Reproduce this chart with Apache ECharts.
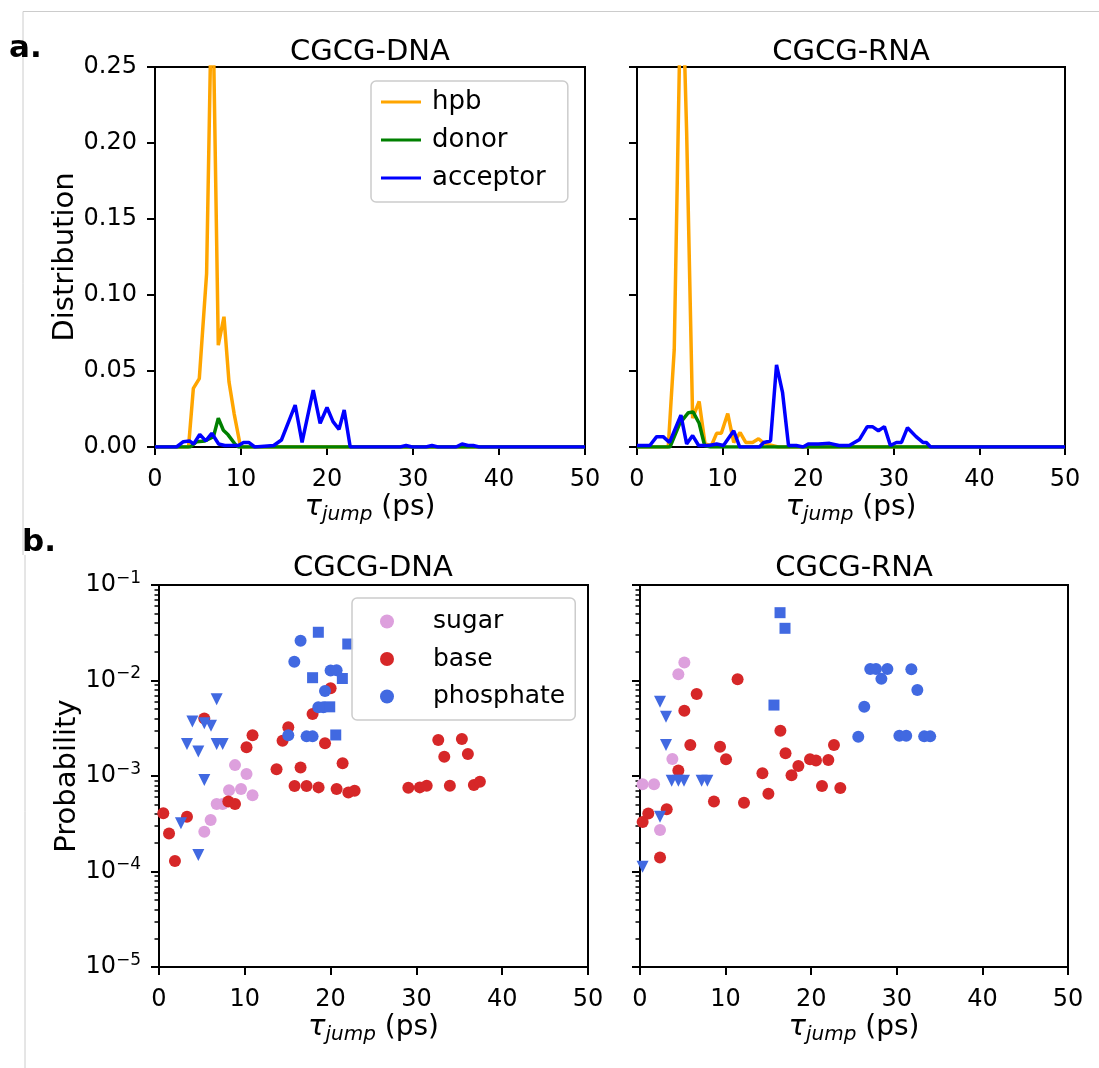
<!DOCTYPE html>
<html><head><meta charset="utf-8">
<script src="https://cdn.jsdelivr.net/npm/echarts@6/dist/echarts.min.js"></script>
<style>html,body{margin:0;padding:0;background:#fff}#c{width:1099px;height:1068px}</style>
</head><body><div id="c"></div>
<script>
// ---------- Panel a: distributions ----------
const dnaHpbX = [0, 3.9, 4.46, 5.15, 6.0, 6.65, 7.36, 8.02, 8.6, 9.2, 9.95, 50];
const dnaHpbY = [0, 0, 0.0386, 0.045, 0.114, 0.32, 0.067, 0.0857, 0.043, 0.022, 0.0, 0];
const dnaDonX = [0, 4.1, 4.85, 5.8, 6.8, 7.36, 7.95, 8.5, 9.3, 9.7, 50];
const dnaDonY = [0, 0, 0.0035, 0.004, 0.0068, 0.019, 0.011, 0.008, 0.002, 0, 0];
const dnaAccX = [0, 2.5, 3.3, 4.0, 4.5, 5.2, 5.9, 6.6, 7.4, 8.1, 8.9, 9.7, 10.3, 10.9, 11.6, 13.8, 14.7, 16.3, 17.1, 18.4, 19.2, 20.0, 20.7, 21.4, 22.0, 22.7, 28.5, 29.2, 29.9, 31.5, 32.2, 32.9, 35.0, 35.7, 36.4, 37.0, 37.7, 50];
const dnaAccY = [0, 0, 0.0035, 0.004, 0.002, 0.0083, 0.004, 0.009, 0.002, 0.001, 0.001, 0.001, 0.003, 0.003, 0, 0.001, 0.0046, 0.0276, 0.003, 0.0375, 0.0156, 0.026, 0.0167, 0.0116, 0.0243, 0, 0, 0.001, 0, 0, 0.001, 0, 0, 0.002, 0.001, 0.001, 0, 0];

const rnaHpbX = [0, 3.65, 4.35, 5.2, 5.8, 6.5, 7.26, 7.95, 8.7, 9.3, 9.85, 10.6, 11.3, 12.05, 12.7, 13.5, 14.2, 14.7, 15.4, 16.5, 50];
const rnaHpbY = [0, 0, 0.064, 0.33, 0.207, 0.019, 0.030, 0.002, 0.001, 0.009, 0.009, 0.022, 0.003, 0.0095, 0.003, 0.003, 0.0054, 0.003, 0.0015, 0, 0];
const rnaDonX = [0, 3.85, 5.0, 6.0, 6.56, 7.26, 7.9, 8.6, 50];
const rnaDonY = [0, 0, 0.0156, 0.0226, 0.023, 0.0156, 0.001, 0, 0];
const rnaAccX = [0, 1.5, 2.3, 3.05, 3.8, 5.13, 5.8, 6.5, 7.2, 8.4, 9.3, 10.1, 11.3, 12.0, 14.3, 14.8, 15.6, 16.3, 17.0, 17.7, 18.6, 19.4, 20.0, 21.2, 22.5, 23.6, 24.8, 26.0, 26.9, 27.5, 28.2, 28.9, 29.6, 30.3, 30.9, 31.6, 32.6, 33.4, 33.8, 34.3, 50];
const rnaAccY = [0.001, 0.001, 0.0068, 0.0068, 0.003, 0.021, 0.002, 0.0075, 0.001, 0.001, 0.002, 0.001, 0.0107, 0, 0, 0.003, 0.004, 0.054, 0.036, 0.001, 0.001, 0, 0.002, 0.002, 0.0024, 0.001, 0.001, 0.005, 0.0134, 0.0134, 0.0107, 0.0134, 0.001, 0.003, 0.003, 0.0127, 0.0068, 0.003, 0.003, 0, 0];

// ---------- Panel b: probabilities ----------
const dnaSugarX = [8.86, 10.2, 8.16, 9.56, 10.9, 6.72, 7.42, 6.02, 5.28];
const dnaSugarY = [1.30e-3, 1.05e-3, 7.1e-4, 7.3e-4, 6.3e-4, 5.1e-4, 5.1e-4, 3.46e-4, 2.61e-4];
const dnaBaseX = [0.5, 1.17, 1.86, 3.26, 5.28, 8.08, 8.86, 10.2, 10.9, 13.7, 14.4, 15.07, 15.8, 16.5, 17.2, 17.9, 18.6, 19.35, 20.0, 20.7, 21.4, 22.07, 22.8, 29.06, 30.4, 31.2, 32.55, 33.25, 33.9, 35.3, 36.0, 36.7, 37.4];
const dnaBaseY = [4.07e-4, 2.5e-4, 1.29e-4, 3.75e-4, 4.0e-3, 5.4e-4, 5.1e-4, 2.0e-3, 2.67e-3, 1.18e-3, 2.34e-3, 3.24e-3, 7.85e-4, 1.23e-3, 7.85e-4, 4.46e-3, 7.6e-4, 2.2e-3, 8.3e-3, 7.3e-4, 1.36e-3, 6.7e-4, 7.0e-4, 7.55e-4, 7.6e-4, 7.9e-4, 2.38e-3, 1.59e-3, 7.9e-4, 2.44e-3, 1.70e-3, 8.05e-4, 8.7e-4];
const dnaPhosCircX = [16.5, 15.77, 20.0, 20.7, 19.35, 18.57, 19.15, 15.07, 17.2, 17.9];
const dnaPhosCircY = [2.61e-2, 1.57e-2, 1.27e-2, 1.28e-2, 7.76e-3, 5.24e-3, 5.24e-3, 2.67e-3, 2.6e-3, 2.6e-3];
const dnaPhosSqX = [18.57, 22.0, 17.9, 21.37, 19.9, 20.6];
const dnaPhosSqY = [3.2e-2, 2.41e-2, 1.07e-2, 1.05e-2, 5.3e-3, 2.69e-3];
const dnaPhosTriX = [6.72, 3.89, 5.28, 6.06, 3.26, 4.58, 6.72, 7.42, 5.28, 2.56, 4.58];
const dnaPhosTriY = [6.35e-3, 3.71e-3, 3.57e-3, 3.36e-3, 2.16e-3, 1.8e-3, 2.16e-3, 2.16e-3, 9.1e-4, 3.2e-4, 1.49e-4];

const rnaSugarX = [5.18, 4.48, 3.78, 0.3, 1.64, 2.34];
const rnaSugarY = [1.54e-2, 1.16e-2, 1.51e-3, 8.2e-4, 8.2e-4, 2.72e-4];
const rnaBaseX = [11.4, 6.62, 5.18, 5.88, 9.35, 10.05, 4.48, 3.12, 0.97, 0.31, 2.34, 8.64, 12.15, 14.3, 15.0, 16.4, 17.0, 17.7, 18.5, 19.86, 20.56, 21.26, 22.0, 22.66, 23.4];
const rnaBaseY = [1.03e-2, 7.23e-3, 4.83e-3, 2.11e-3, 2.03e-3, 1.5e-3, 1.14e-3, 4.48e-4, 4.06e-4, 3.3e-4, 1.4e-4, 5.4e-4, 5.25e-4, 1.07e-3, 6.5e-4, 2.98e-3, 1.73e-3, 1.02e-3, 1.27e-3, 1.5e-3, 1.45e-3, 7.85e-4, 1.47e-3, 2.11e-3, 7.5e-4];
const rnaPhosCircX = [26.9, 27.57, 28.9, 28.2, 31.7, 32.4, 26.2, 25.5, 30.3, 31.1, 33.2, 33.9];
const rnaPhosCircY = [1.32e-2, 1.32e-2, 1.32e-2, 1.04e-2, 1.31e-2, 7.96e-3, 5.3e-3, 2.58e-3, 2.64e-3, 2.64e-3, 2.6e-3, 2.6e-3];
const rnaPhosSqX = [16.36, 16.94, 15.65];
const rnaPhosSqY = [5.13e-2, 3.52e-2, 5.53e-3];
const rnaPhosTriX = [2.34, 3.04, 3.04, 3.7, 4.48, 5.14, 7.2, 7.87, 2.34, 0.3];
const rnaPhosTriY = [6.0e-3, 4.18e-3, 2.11e-3, 8.9e-4, 8.9e-4, 8.9e-4, 8.9e-4, 8.9e-4, 3.75e-4, 1.12e-4];

const panelTitles = ['CGCG-DNA', 'CGCG-RNA'];
const distTicks = [0, 0.05, 0.1, 0.15, 0.2, 0.25];
const xTicks = [0, 10, 20, 30, 40, 50];

// ---------- build ----------
const FONT = 'DejaVu Sans';
const zip = (xs, ys) => xs.map((x, i) => [x, ys[i]]);
const minorVals = [];
for (let e = -5; e < -1; e++) for (let m = 2; m <= 9; m++) minorVals.push(m * Math.pow(10, e));

const grids = [
  {left: 155, top: 67, width: 430, height: 380},
  {left: 637, top: 67, width: 428, height: 380},
  {left: 159, top: 585, width: 429, height: 382},
  {left: 640, top: 585, width: 428, height: 382}
].map(g => Object.assign({show: true, borderColor: '#000', borderWidth: 2, backgroundColor: 'transparent', outerBoundsMode: 'none'}, g));

const xName = '{t|τ}{s|jump} {n|(ps)}';
const xNameStyle = {
  color: '#000', fontFamily: FONT, fontSize: 28,
  rich: {
    t: {fontFamily: FONT, fontStyle: 'italic', fontSize: 29, lineHeight: 34, color: '#000'},
    s: {fontFamily: FONT, fontStyle: 'italic', fontSize: 20, lineHeight: 22, verticalAlign: 'bottom', color: '#000'},
    n: {fontFamily: FONT, fontSize: 28, lineHeight: 34, color: '#000'}
  }
};
function xAxisCfg(gi) {
  return {
    type: 'value', gridIndex: gi, min: 0, max: 50, interval: 10,
    name: xName, nameLocation: 'middle', nameGap: 43, nameTextStyle: xNameStyle,
    axisLine: {show: true, onZero: false, lineStyle: {color: '#000', width: 2}},
    axisTick: {show: true, length: 8, lineStyle: {color: '#000', width: 2}},
    axisLabel: {show: true, margin: 21, color: '#000', fontFamily: FONT, fontSize: 24},
    splitLine: {show: false}
  };
}
function distY(gi, labels) {
  return {
    type: 'value', gridIndex: gi, min: 0, max: 0.25, interval: 0.05, position: 'left',
    name: labels ? 'Distribution' : '', nameLocation: 'middle', nameGap: 75,
    nameTextStyle: {color: '#000', fontFamily: FONT, fontSize: 29},
    axisLine: {show: true, onZero: false, lineStyle: {color: '#000', width: 2}},
    axisTick: {show: true, length: 8, lineStyle: {color: '#000', width: 2}},
    axisLabel: {show: labels, margin: 18, color: '#000', fontFamily: FONT, fontSize: 24, formatter: v => v.toFixed(2)},
    splitLine: {show: false}
  };
}
function probY(gi, labels) {
  return {
    type: 'log', logBase: 10, gridIndex: gi, min: 1e-5, max: 1e-1, position: 'left',
    name: labels ? 'Probability' : '', nameLocation: 'middle', nameGap: 77,
    nameTextStyle: {color: '#000', fontFamily: FONT, fontSize: 29},
    axisLine: {show: true, onZero: false, lineStyle: {color: '#000', width: 2}},
    axisTick: {show: true, length: 8, lineStyle: {color: '#000', width: 2}},
    axisLabel: {show: labels, margin: 18, color: '#000', fontFamily: FONT, fontSize: 24,
      formatter: v => '{b|10}{e|−' + Math.abs(Math.round(Math.log10(v))) + '}',
      rich: {
        b: {fontFamily: FONT, fontSize: 24, lineHeight: 30, color: '#000'},
        e: {fontFamily: FONT, fontSize: 17, lineHeight: 17, verticalAlign: 'top', color: '#000'}
      }},
    splitLine: {show: false}
  };
}
function minorY(gi) {
  return {
    type: 'log', logBase: 10, gridIndex: gi, min: 1e-5, max: 1e-1, position: 'left', offset: 0,
    axisLine: {show: false},
    axisTick: {show: true, length: 4.5, customValues: minorVals, lineStyle: {color: '#000', width: 1.5}},
    axisLabel: {show: false},
    splitLine: {show: false}
  };
}

function lineS(name, xs, ys, color, gi) {
  return {type: 'line', name, data: zip(xs, ys), xAxisIndex: gi, yAxisIndex: gi,
    showSymbol: false, symbol: 'none', clip: true, z: 2,
    lineStyle: {color, width: 3.5}, itemStyle: {color}, emphasis: {disabled: true}};
}
function scat(name, xs, ys, color, gi, symbol, size, rot) {
  return {type: 'scatter', name, data: zip(xs, ys), xAxisIndex: gi, yAxisIndex: gi,
    symbol, symbolSize: size, symbolRotate: rot || 0, z: 2,
    itemStyle: {color, opacity: 1}, emphasis: {disabled: true}};
}
const C = {hpb: '#FFA500', donor: '#008000', acceptor: '#0000FF', sugar: '#DDA0DD', base: '#D62728', phos: '#4169E1'};

const series = [
  lineS('hpb', dnaHpbX, dnaHpbY, C.hpb, 0),
  lineS('donor', dnaDonX, dnaDonY, C.donor, 0),
  lineS('acceptor', dnaAccX, dnaAccY, C.acceptor, 0),
  lineS('hpb', rnaHpbX, rnaHpbY, C.hpb, 1),
  lineS('donor', rnaDonX, rnaDonY, C.donor, 1),
  lineS('acceptor', rnaAccX, rnaAccY, C.acceptor, 1),
  scat('sugar', dnaSugarX, dnaSugarY, C.sugar, 2, 'circle', 12),
  scat('base', dnaBaseX, dnaBaseY, C.base, 2, 'circle', 12),
  scat('phosphate', dnaPhosCircX, dnaPhosCircY, C.phos, 2, 'circle', 12),
  scat('phosphate-sq', dnaPhosSqX, dnaPhosSqY, C.phos, 2, 'rect', 11),
  scat('phosphate-tri', dnaPhosTriX, dnaPhosTriY, C.phos, 2, 'triangle', 12, 180),
  scat('sugar', rnaSugarX, rnaSugarY, C.sugar, 3, 'circle', 12),
  scat('base', rnaBaseX, rnaBaseY, C.base, 3, 'circle', 12),
  scat('phosphate', rnaPhosCircX, rnaPhosCircY, C.phos, 3, 'circle', 12),
  scat('phosphate-sq', rnaPhosSqX, rnaPhosSqY, C.phos, 3, 'rect', 11),
  scat('phosphate-tri', rnaPhosTriX, rnaPhosTriY, C.phos, 3, 'triangle', 12, 180)
];

function txt(text, x, y, size, weight, align) {
  return {type: 'text', x, y, z: 100, silent: true,
    style: {text, fill: '#000', fontFamily: FONT, fontSize: size, fontWeight: weight || 'normal', align: align || 'center', verticalAlign: 'middle'}};
}

const option = {
  animation: false,
  backgroundColor: '#fff',
  textStyle: {fontFamily: FONT},
  grid: grids,
  xAxis: [xAxisCfg(0), xAxisCfg(1), xAxisCfg(2), xAxisCfg(3)],
  yAxis: [distY(0, true), distY(1, false), probY(2, true), probY(3, false), minorY(2), minorY(3)],
  legend: [
    {data: ['hpb', 'donor', 'acceptor'], orient: 'vertical', left: 371, top: 81,
      icon: 'rect', itemWidth: 40, itemHeight: 3, itemGap: 12, selectedMode: false,
      textStyle: {color: '#000', fontFamily: FONT, fontSize: 26, padding: [0, 0, 0, 6]},
      backgroundColor: 'rgba(255,255,255,0.8)', borderColor: '#cccccc', borderWidth: 1.5, borderRadius: 5,
      padding: [8, 22, 11, 10], z: 10},
    {data: ['sugar', 'base', 'phosphate'], orient: 'vertical', left: 352, top: 598,
      icon: 'circle', itemWidth: 14, itemHeight: 14, itemGap: 12.5, selectedMode: false,
      textStyle: {color: '#000', fontFamily: FONT, fontSize: 25, padding: [0, 0, 0, 34]},
      backgroundColor: 'rgba(255,255,255,0.8)', borderColor: '#cccccc', borderWidth: 1.5, borderRadius: 5,
      padding: [11, 10, 11, 28], z: 10}
  ],
  graphic: [
    {type: 'line', z: 0, silent: true, shape: {x1: 23, y1: 11.5, x2: 1099, y2: 11.5}, style: {stroke: '#cccccc', lineWidth: 1}},
    {type: 'line', z: 0, silent: true, shape: {x1: 23, y1: 11.5, x2: 23, y2: 555}, style: {stroke: '#cccccc', lineWidth: 1}},
    {type: 'line', z: 0, silent: true, shape: {x1: 25, y1: 555, x2: 25, y2: 1068}, style: {stroke: '#cccccc', lineWidth: 1}},
    txt(panelTitles[0], 370, 52, 29),
    txt(panelTitles[1], 851, 52, 29),
    txt(panelTitles[0], 373, 568, 29),
    txt(panelTitles[1], 854, 568, 29),
    txt('a.', 9, 49, 31, 'bold', 'left'),
    txt('b.', 22, 543, 31, 'bold', 'left')
  ],
  series
};
const chart = echarts.init(document.getElementById('c'), null, {renderer: 'canvas'});
chart.setOption(option);
</script>
</body></html>
